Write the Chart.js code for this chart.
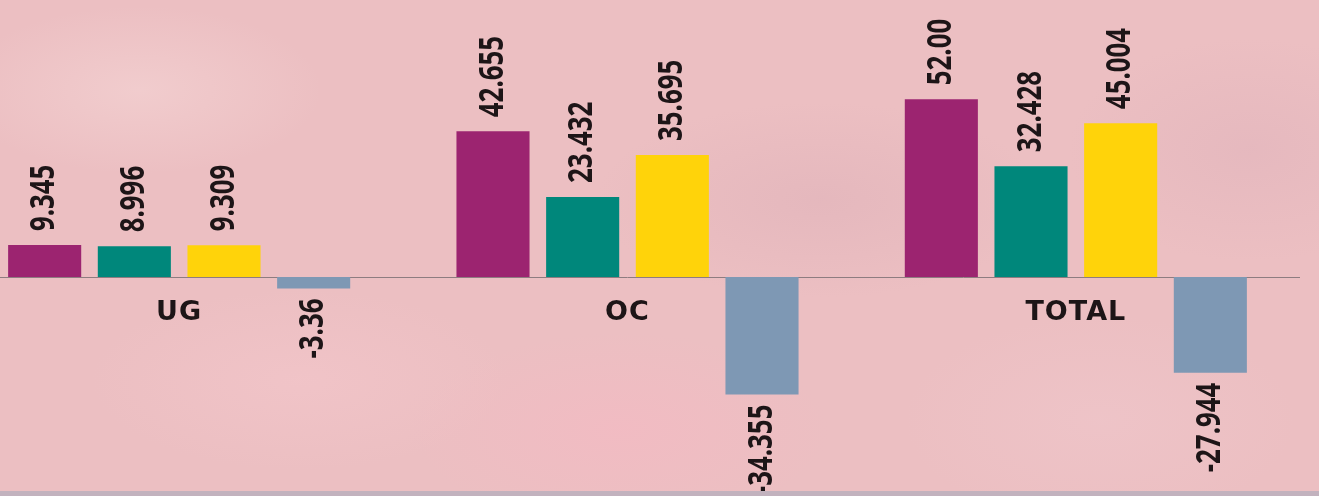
<!DOCTYPE html>
<html>
<head>
<meta charset="utf-8">
<script src="https://cdn.jsdelivr.net/npm/chart.js@4"></script>
<style>
  html, body { margin:0; padding:0; width:1319px; height:496px; overflow:hidden; }
  body {
    position:relative;
    background-color:#ecbfc2;
    background-image:
      radial-gradient(ellipse 260px 120px at 140px 90px, rgba(245,215,215,0.55), rgba(245,215,215,0) 70%),
      radial-gradient(ellipse 300px 140px at 620px 430px, rgba(245,185,195,0.6), rgba(245,185,195,0) 70%),
      radial-gradient(ellipse 280px 150px at 1100px 420px, rgba(240,200,205,0.5), rgba(240,200,205,0) 70%),
      radial-gradient(ellipse 320px 140px at 820px 200px, rgba(215,170,180,0.35), rgba(215,170,180,0) 70%),
      radial-gradient(ellipse 260px 160px at 1250px 150px, rgba(220,175,185,0.4), rgba(220,175,185,0) 70%),
      radial-gradient(ellipse 300px 130px at 300px 380px, rgba(245,200,205,0.5), rgba(245,200,205,0) 70%);
  }
  #wrap { position:absolute; left:-45px; top:0; width:1345px; height:496px; }
  #strip { position:absolute; left:0; bottom:0; width:1319px; height:5px; background:#c2b2be; }
</style>
</head>
<body>
<div id="wrap"><canvas id="c"></canvas></div>
<div id="strip"></div>
<script>
const categories = ['UG', 'OC', 'TOTAL'];
const seriesA = [9.345, 42.655, 52.00];
const seriesB = [8.996, 23.432, 32.428];
const seriesC = [9.309, 35.695, 45.004];
const seriesD = [-3.36, -34.355, -27.944];
const textA = ['9.345', '42.655', '52.00'];
const textB = ['8.996', '23.432', '32.428'];
const textC = ['9.309', '35.695', '45.004'];
const textD = ['-3.36', '-34.355', '-27.944'];

const labelPlugin = {
  id: 'labelPlugin',
  beforeDatasetsDraw(chart) {
    const { ctx, chartArea, scales: { y } } = chart;
    const y0 = Math.round(y.getPixelForValue(0)) + 0.5;
    ctx.save();
    ctx.strokeStyle = '#8e7c80';
    ctx.lineWidth = 1;
    ctx.beginPath();
    ctx.moveTo(chartArea.left, y0);
    ctx.lineTo(chartArea.right, y0);
    ctx.stroke();
    ctx.restore();
  },
  afterDatasetsDraw(chart) {
    const { ctx, scales: { x, y } } = chart;
    chart.data.datasets.forEach((ds, i) => {
      const meta = chart.getDatasetMeta(i);
      meta.data.forEach((bar, j) => {
        const v = ds.data[j];
        ctx.save();
        ctx.translate(bar.x, v >= 0 ? bar.y - 14 : bar.y + 10);
        ctx.rotate(-Math.PI / 2);
        ctx.scale(0.76, 1);
        ctx.font = 'bold 34px "Open Sans"';
        ctx.fillStyle = '#1d1517';
        ctx.textBaseline = 'middle';
        ctx.textAlign = v >= 0 ? 'left' : 'right';
        ctx.fillText(ds.valueText[j], 0, 0);
        ctx.restore();
      });
    });
    const y0 = y.getPixelForValue(0);
    ctx.save();
    ctx.font = 'bold 27px "DejaVu Sans"';
    ctx.letterSpacing = '1px';
    ctx.fillStyle = '#1d1517';
    ctx.textAlign = 'center';
    ctx.textBaseline = 'middle';
    categories.forEach((c, j) => {
      ctx.fillText(c, x.getPixelForValue(j), y0 + 36);
    });
    ctx.restore();
  }
};

new Chart(document.getElementById('c'), {
  type: 'bar',
  data: {
    labels: categories,
    datasets: [
      { data: seriesA, valueText: textA, backgroundColor: '#9c2470' },
      { data: seriesB, valueText: textB, backgroundColor: '#00877b' },
      { data: seriesC, valueText: textC, backgroundColor: '#ffd30a' },
      { data: seriesD, valueText: textD, backgroundColor: '#7e98b4' }
    ]
  },
  options: {
    responsive: true,
    maintainAspectRatio: false,
    animation: false,
    layout: { padding: 0 },
    datasets: { bar: { categoryPercentage: 0.8, barPercentage: 0.815, borderWidth: 0 } },
    plugins: { legend: { display: false }, tooltip: { enabled: false } },
    scales: {
      x: { display: false },
      y: { display: false, min: -64, max: 81 }
    }
  },
  plugins: [labelPlugin]
});
</script>
</body>
</html>
